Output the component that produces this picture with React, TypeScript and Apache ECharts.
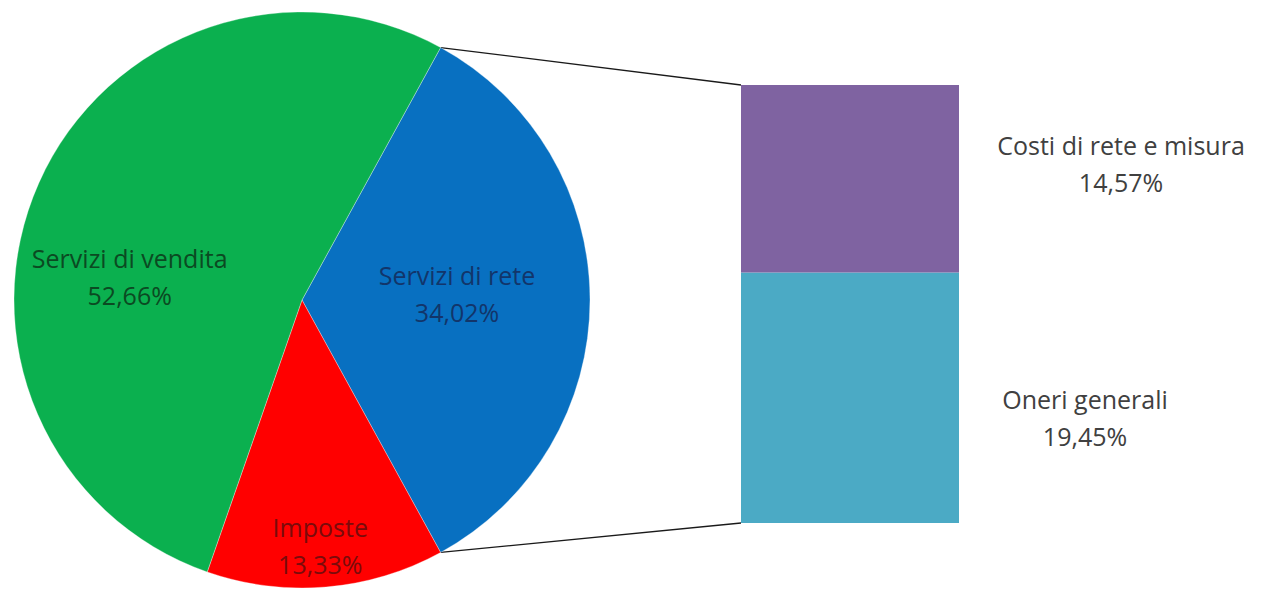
import React, { useEffect, useRef } from "react";
import * as echarts from "echarts";

// ---- data ----
const pieNames = ["Servizi di rete", "Imposte", "Servizi di vendita"];
const pieValues = [34.02, 13.33, 52.66];
const pieColors = ["#0870C1", "#FF0000", "#0BB04F"];
const pieLabelColors = ["#12356a", "#7a0b0b", "#0b4a22"];

const barNames = ["Oneri generali", "Costi di rete e misura"];
const barValues = [19.45, 14.57];
const barColors = ["#4BAAC5", "#7F63A1"];

// ---- layout ----
const W = 1268;
const H = 593;
const PIE_CX = 302;
const PIE_CY = 300;
const PIE_R = 288;
const GRID_LEFT = 741;
const GRID_RIGHT = 959;
const GRID_TOP = 85;
const GRID_BOTTOM = 523;
const pieLabelShift = [
  { dx: 8, dy: -7 },
  { dx: 6, dy: 99 },
  { dx: -38, dy: 36 },
];
const barLabelLayout = [
  { distance: 126, offset: [0, 20] },
  { distance: 162, offset: [0, -15] },
];

const fmt = (v: number) => v.toFixed(2).replace(".", ",") + "%";

export default function App() {
  const ref = useRef<HTMLDivElement>(null);
  useEffect(() => {
    if (!ref.current) return;
    const chart = echarts.init(ref.current, undefined, { renderer: "svg" });
    const total = pieValues.reduce((a, b) => a + b, 0);
    const firstAngle = (pieValues[0] / total) * 360;
    const startAngle = firstAngle / 2;
    const rad = (startAngle * Math.PI) / 180;
    const topPt = [PIE_CX + PIE_R * Math.cos(rad), PIE_CY - PIE_R * Math.sin(rad)];
    const botPt = [PIE_CX + PIE_R * Math.cos(rad), PIE_CY + PIE_R * Math.sin(rad)];
    const barTotal = barValues.reduce((a, b) => a + b, 0);
    const font = "'Open Sans', Lato, sans-serif";

    chart.setOption({
      animation: false,
      backgroundColor: "#ffffff",
      grid: {
        left: GRID_LEFT,
        right: W - GRID_RIGHT,
        top: GRID_TOP,
        bottom: H - GRID_BOTTOM,
        containLabel: false,
      },
      xAxis: { type: "category", data: [""], show: false },
      yAxis: { type: "value", min: 0, max: barTotal, show: false },
      series: [
        {
          type: "pie",
          center: [PIE_CX, PIE_CY],
          radius: PIE_R,
          startAngle: startAngle,
          clockwise: true,
          silent: true,
          labelLine: { show: false },
          itemStyle: { borderColor: "rgba(255,255,255,0.45)", borderWidth: 0.7 },
          label: {
            show: true,
            position: "inside",
            fontFamily: font,
            fontSize: 25,
            lineHeight: 37,
            align: "center",
            formatter: (p: any) => `${p.name}\n${fmt(p.value)}`,
          },
          labelLayout: (p: any) => pieLabelShift[p.dataIndex] || {},
          data: pieNames.map((n, i) => ({
            name: n,
            value: pieValues[i],
            itemStyle: { color: pieColors[i] },
            label: { color: pieLabelColors[i] },
          })),
        },
        ...barNames.map((n, i) => ({
          type: "bar",
          name: n,
          stack: "tot",
          barWidth: "100%",
          barCategoryGap: 0,
          silent: true,
          itemStyle: { color: barColors[i] },
          label: {
            show: true,
            position: "right",
            distance: barLabelLayout[i].distance,
            offset: barLabelLayout[i].offset,
            align: "center",
            fontFamily: font,
            fontSize: 25,
            lineHeight: 37,
            color: "#404040",
            formatter: () => `${n}\n${fmt(barValues[i])}`,
          },
          data: [barValues[i]],
        })),
      ],
      graphic: [
        {
          type: "line",
          shape: { x1: topPt[0], y1: topPt[1], x2: GRID_LEFT, y2: GRID_TOP },
          style: { stroke: "#1a1a1a", lineWidth: 1.3 },
        },
        {
          type: "line",
          shape: { x1: botPt[0], y1: botPt[1], x2: GRID_LEFT, y2: GRID_BOTTOM },
          style: { stroke: "#1a1a1a", lineWidth: 1.3 },
        },
      ],
    });
    return () => chart.dispose();
  }, []);
  return (
    <div
      ref={ref}
      style={{ position: "fixed", left: 0, top: 0, width: W, height: H }}
    />
  );
}
